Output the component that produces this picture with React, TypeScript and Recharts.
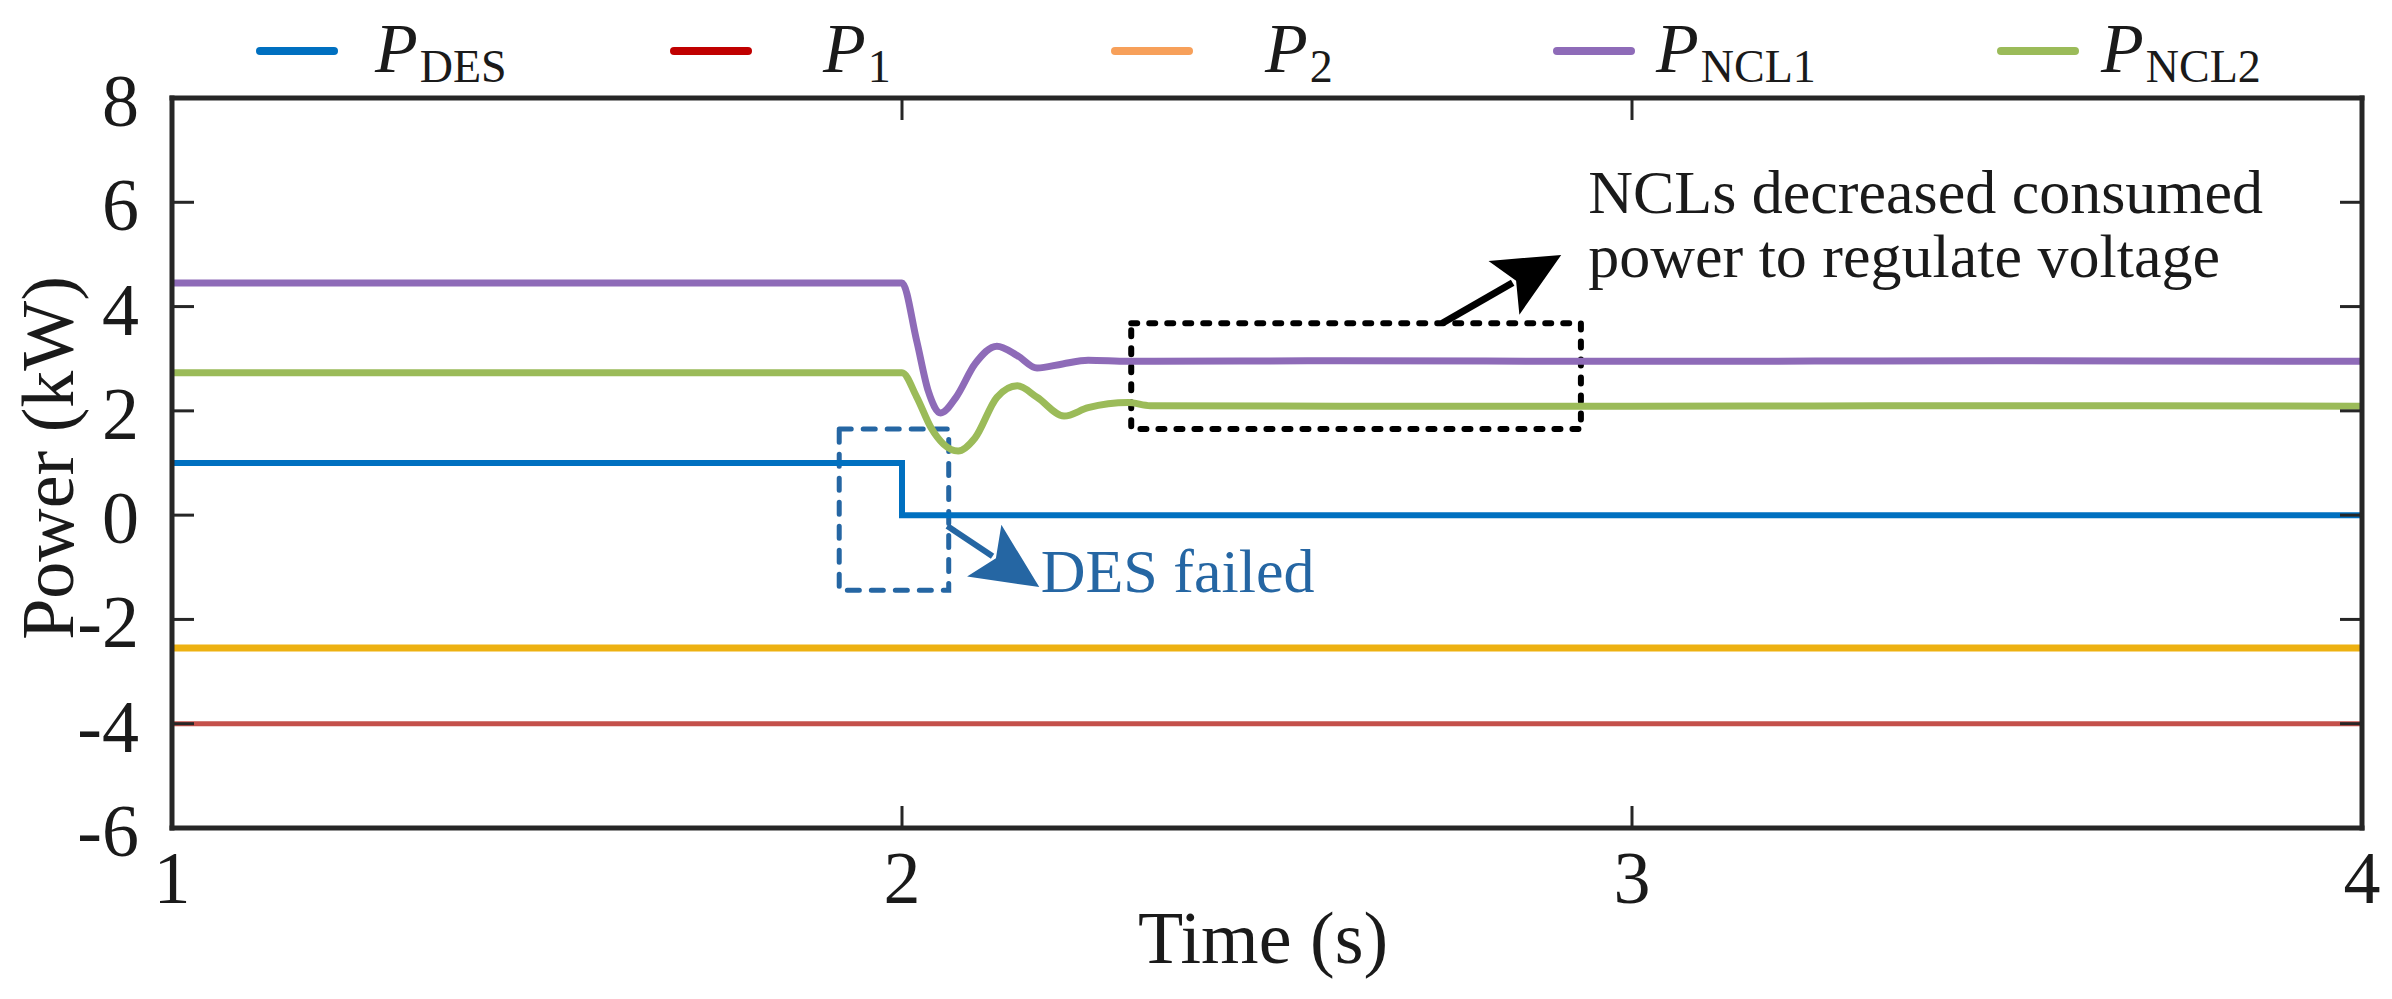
import {
  Legend,
  Line,
  LineChart,
  ReferenceArea,
  ReferenceDot,
  ReferenceLine,
  XAxis,
  YAxis,
} from "recharts";

const FONT = '"Liberation Serif", "Times New Roman", serif';
const AXIS = "#262626";
const TEXT = "#1a1a1a";
const NOTE_BLUE = "#2566a3";

// axes
const timeTicks = [1, 2, 3, 4];
const powerTicks = [-6, -4, -2, 0, 2, 4, 6, 8];

// series (time in s, power in kW)
const desTime = [1, 2, 2, 4];
const desPower = [1, 1, 0, 0];

const p1Time = [1, 4];
const p1Power = [-4, -4];

const p2Time = [1, 4];
const p2Power = [-2.55, -2.55];

const ncl1Time = [1, 2, 2.02, 2.036, 2.053, 2.074, 2.1, 2.13, 2.158, 2.185, 2.22, 2.255, 2.31, 2.6, 3, 3.5, 4];
const ncl1Power = [4.45, 4.45, 3.35, 2.38, 1.96, 2.26, 2.9, 3.24, 3.06, 2.82, 2.9, 2.97, 2.95, 2.96, 2.95, 2.96, 2.95];

const ncl2Time = [1, 2, 2.02, 2.04, 2.057, 2.077, 2.1, 2.13, 2.158, 2.185, 2.222, 2.255, 2.31, 2.34, 2.6, 3, 3.5, 4];
const ncl2Power = [2.73, 2.73, 2.27, 1.67, 1.36, 1.23, 1.48, 2.26, 2.48, 2.26, 1.9, 2.06, 2.16, 2.1, 2.09, 2.09, 2.1, 2.09];

const toPoints = (time: number[], power: number[]) =>
  time.map((t, i) => ({ t, v: power[i] }));

const series = [
  { key: "des", sub: "DES", time: desTime, power: desPower, color: "#0070c0", legendColor: "#0070c0", width: 6, curve: "linear" },
  { key: "p1", sub: "1", time: p1Time, power: p1Power, color: "#c4504a", legendColor: "#c00000", width: 5, curve: "linear" },
  { key: "p2", sub: "2", time: p2Time, power: p2Power, color: "#edb111", legendColor: "#f7a05a", width: 7, curve: "linear" },
  { key: "ncl1", sub: "NCL1", time: ncl1Time, power: ncl1Power, color: "#8e6bb8", legendColor: "#8e6bb8", width: 7, curve: "monotone" },
  { key: "ncl2", sub: "NCL2", time: ncl2Time, power: ncl2Power, color: "#9bbb59", legendColor: "#9bbb59", width: 7, curve: "monotone" },
] as const;

// legend placement (px)
const legendSlots = [
  { lineX: 256, textX: 375 },
  { lineX: 670, textX: 823 },
  { lineX: 1111, textX: 1265 },
  { lineX: 1553, textX: 1656 },
  { lineX: 1997, textX: 2101 },
];

function LegendBox() {
  return (
    <svg width={2392} height={98} style={{ display: "block" }}>
      {series.map((s, i) => {
        const slot = legendSlots[i];
        return (
          <g key={s.key}>
            <line
              x1={slot.lineX + 4}
              x2={slot.lineX + 78}
              y1={51}
              y2={51}
              stroke={s.legendColor}
              strokeWidth={8}
              strokeLinecap="round"
            />
            <text x={slot.textX} y={72} fontFamily={FONT} fill={TEXT}>
              <tspan fontSize={70} fontStyle="italic">P</tspan>
              <tspan fontSize={46} dy={10} dx={2}>{s.sub}</tspan>
            </text>
          </g>
        );
      })}
    </svg>
  );
}

function BottomTick({ x, y, payload }: any) {
  return (
    <g>
      <line x1={x} x2={x} y1={y} y2={y - 22} stroke={AXIS} strokeWidth={3} />
      <text x={x} y={y + 75} textAnchor="middle" fontFamily={FONT} fontSize={74} fill={TEXT}>
        {payload.value}
      </text>
    </g>
  );
}

function LeftTick({ x, y, payload }: any) {
  return (
    <g>
      <line x1={x} x2={x + 22} y1={y} y2={y} stroke={AXIS} strokeWidth={3} />
      <text x={x - 33} y={y + 28} textAnchor="end" fontFamily={FONT} fontSize={74} fill={TEXT}>
        {payload.value}
      </text>
    </g>
  );
}

function TopTick({ x, y }: any) {
  return <line x1={x} x2={x} y1={y} y2={y + 22} stroke={AXIS} strokeWidth={3} />;
}

function RightTick({ x, y }: any) {
  return <line x1={x} x2={x - 22} y1={y} y2={y} stroke={AXIS} strokeWidth={3} />;
}

function timeTitle(props: any) {
  const vb = props.viewBox;
  return (
    <text x={vb.x + vb.width / 2 - 4} y={vb.y + 135} textAnchor="middle" fontFamily={FONT} fontSize={74} fill={TEXT}>
      Time (s)
    </text>
  );
}

function powerTitle(props: any) {
  const vb = props.viewBox;
  const cy = vb.y + vb.height / 2 - 5;
  return (
    <text
      x={73}
      y={cy}
      transform={`rotate(-90 73 ${cy})`}
      textAnchor="middle"
      fontFamily={FONT}
      fontSize={74}
      fill={TEXT}
    >
      Power (kW)
    </text>
  );
}

function arrowShape(color: string, shaft: number) {
  return (props: any) => {
    const { x1, y1, x2, y2 } = props;
    const dx = x2 - x1;
    const dy = y2 - y1;
    const len = Math.hypot(dx, dy) || 1;
    const ux = dx / len;
    const uy = dy / len;
    const headLen = 66;
    const headHalf = 31;
    const bx = x2 - ux * headLen;
    const by = y2 - uy * headLen;
    const pts = [
      `${x2},${y2}`,
      `${bx - uy * headHalf},${by + ux * headHalf}`,
      `${bx + ux * 14},${by + uy * 14}`,
      `${bx + uy * headHalf},${by - ux * headHalf}`,
    ].join(" ");
    return (
      <g>
        <line x1={x1} y1={y1} x2={bx + ux * 10} y2={by + uy * 10} stroke={color} strokeWidth={shaft} />
        <polygon points={pts} fill={color} />
      </g>
    );
  };
}

function desNote(props: any) {
  return (
    <text x={props.cx} y={props.cy + 4} fontFamily={FONT} fontSize={62} fill={NOTE_BLUE}>
      DES failed
    </text>
  );
}

function nclNote(props: any) {
  return (
    <text x={props.cx} y={props.cy} fontFamily={FONT} fontSize={62} fill={TEXT}>
      <tspan x={props.cx}>NCLs decreased consumed</tspan>
      <tspan x={props.cx} dy={64}>power to regulate voltage</tspan>
    </text>
  );
}

const axisLine = { stroke: AXIS, strokeWidth: 5, strokeLinecap: "square" };

export default function App() {
  return (
    <div style={{ position: "absolute", left: 0, top: 0, width: 2392, height: 999, background: "#fff" }}>
      <LineChart width={2392} height={999} margin={{ top: 97, right: 29, bottom: 170, left: 171 }}>
        <XAxis
          xAxisId="bottom"
          type="number"
          dataKey="t"
          domain={[1, 4]}
          ticks={timeTicks}
          interval={0}
          allowDataOverflow
          height={1}
          tickSize={0}
          tickMargin={0}
          tickLine={false}
          axisLine={axisLine}
          tick={BottomTick}
          label={timeTitle}
        />
        <XAxis
          xAxisId="top"
          orientation="top"
          type="number"
          dataKey="t"
          domain={[1, 4]}
          ticks={timeTicks}
          interval={0}
          allowDataOverflow
          height={1}
          tickSize={0}
          tickMargin={0}
          tickLine={false}
          axisLine={axisLine}
          tick={TopTick}
        />
        <YAxis
          yAxisId="left"
          type="number"
          domain={[-6, 8]}
          ticks={powerTicks}
          interval={0}
          allowDataOverflow
          width={1}
          tickSize={0}
          tickMargin={0}
          tickLine={false}
          axisLine={axisLine}
          tick={LeftTick}
          label={powerTitle}
        />
        <YAxis
          yAxisId="right"
          orientation="right"
          type="number"
          domain={[-6, 8]}
          ticks={powerTicks}
          interval={0}
          allowDataOverflow
          width={1}
          tickSize={0}
          tickMargin={0}
          tickLine={false}
          axisLine={axisLine}
          tick={RightTick}
        />
        <Legend
          layout="horizontal"
          align="center"
          verticalAlign="middle"
          width={2392}
          height={98}
          wrapperStyle={{ top: 0, left: 0 }}
          content={() => <LegendBox />}
        />

        {series.map((s) => (
          <Line
            key={s.key}
            xAxisId="bottom"
            yAxisId="left"
            data={toPoints(s.time as number[], s.power as number[])}
            dataKey="v"
            type={s.curve}
            stroke={s.color}
            strokeWidth={s.width}
            dot={false}
            activeDot={false}
            isAnimationActive={false}
          />
        ))}

        <ReferenceArea
          xAxisId="bottom"
          yAxisId="left"
          x1={1.914}
          x2={2.064}
          y1={-1.44}
          y2={1.65}
          fill="none"
          fillOpacity={0}
          stroke={NOTE_BLUE}
          strokeWidth={5}
          strokeDasharray="12 12"
          strokeLinecap="round"
        />
        <ReferenceArea
          xAxisId="bottom"
          yAxisId="left"
          x1={2.314}
          x2={2.93}
          y1={1.65}
          y2={3.68}
          fill="none"
          fillOpacity={0}
          stroke="#000"
          strokeWidth={6}
          strokeDasharray="6 12"
          strokeLinecap="round"
        />
        <ReferenceLine
          xAxisId="bottom"
          yAxisId="left"
          segment={[{ x: 2.062, y: -0.21 }, { x: 2.188, y: -1.38 }]}
          shape={arrowShape(NOTE_BLUE, 6)}
        />
        <ReferenceLine
          xAxisId="bottom"
          yAxisId="left"
          segment={[{ x: 2.74, y: 3.68 }, { x: 2.903, y: 4.99 }]}
          shape={arrowShape("#000", 7)}
        />
        <ReferenceDot xAxisId="bottom" yAxisId="left" x={2.19} y={-1.4} r={0} shape={desNote} />
        <ReferenceDot xAxisId="bottom" yAxisId="left" x={2.94} y={5.79} r={0} shape={nclNote} />
      </LineChart>
    </div>
  );
}
